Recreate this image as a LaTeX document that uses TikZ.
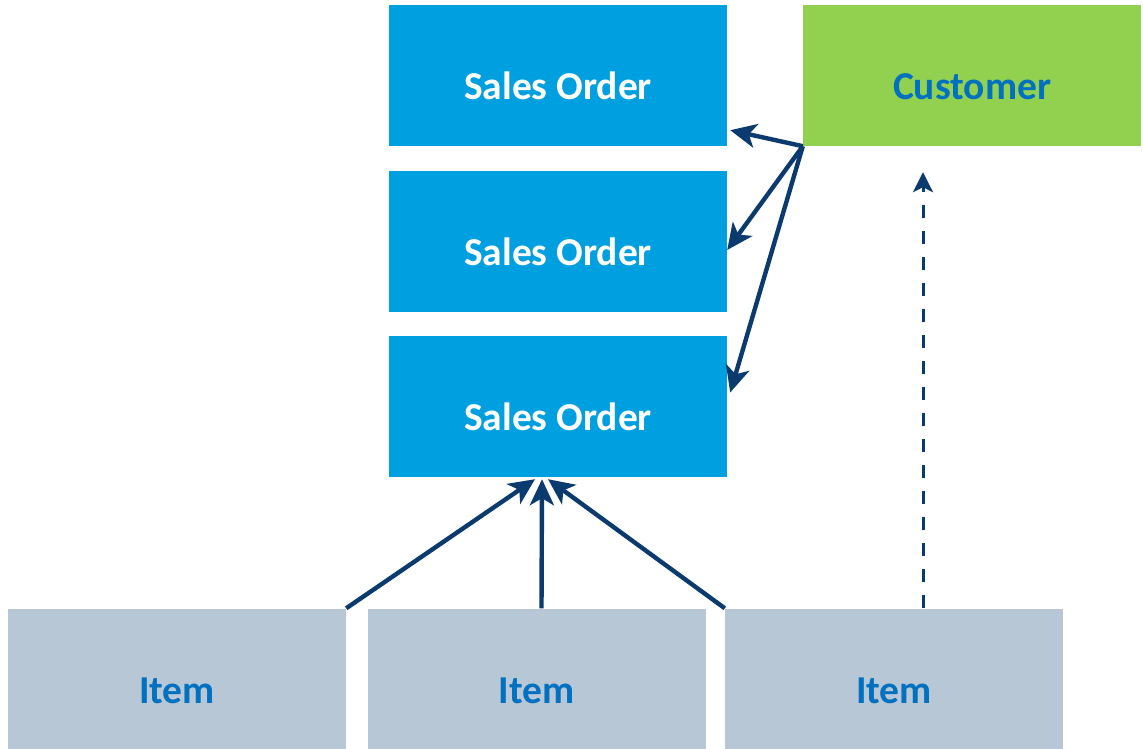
\documentclass[tikz,border=0pt]{standalone}
\usepackage{fontspec}
\setmainfont{Carlito}
\usetikzlibrary{arrows.meta}

\definecolor{orderblue}{HTML}{009FDF}
\definecolor{custgreen}{HTML}{92D050}
\definecolor{itemgray}{HTML}{B8C7D5}
\definecolor{labelblue}{HTML}{0070C0}
\definecolor{linknavy}{HTML}{0B3A6E}

\begin{document}
\begin{tikzpicture}[x=1pt, y=-1pt, >={Stealth[length=26pt,width=24pt,inset=7pt]}]

% --- 全局样式 ---
\tikzset{
  box/.style={minimum width=338pt, minimum height=141pt, inner sep=0pt,
              text height=48pt, text depth=0pt,
              font=\fontsize{39.5}{42}\selectfont\bfseries},
  orderbox/.style={box, fill=orderblue, text=white},
  custbox/.style={box, fill=custgreen, text=labelblue},
  itembox/.style={box, fill=itemgray, text=labelblue},
  link/.style={->, draw=linknavy, line width=4.4pt},
  weaklink/.style={draw=linknavy, line width=3pt, dash pattern=on 13pt off 13pt,
                   -{Stealth[length=20pt,width=20pt,inset=5pt]}}
}

% --- 画布范围 ---
\useasboundingbox (0,0) rectangle (1143,749);

% --- 方框 ---
\node[orderbox] (so1) at (558,75.5) {Sales Order};
\node[orderbox] (so2) at (558,241) {Sales Order};
\node[orderbox] (so3) at (558,406.5) {Sales Order};
\node[custbox] (cust) at (972,75.5) {Customer};
\node[itembox] (item1) at (177,679) {Item};
\node[itembox] (item2) at (536.5,679) {Item};
\node[itembox] (item3) at (894,679) {Item};

% --- Customer 到各 Sales Order ---
\draw[link] (cust.south west) -- ([xshift=3pt,yshift=16pt]so1.south east);
\draw[link] (cust.south west) -- ([yshift=-9pt]so2.east);
\draw[link] (cust.south west) -- ([xshift=3pt,yshift=14pt]so3.east);

% --- Item 到 Sales Order ---
\draw[link] (item1.north east) -- ([xshift=-23pt,yshift=-2pt]so3.south);
\draw[link] ([xshift=5pt]item2.north) -- ([xshift=-16pt,yshift=-2pt]so3.south);
\draw[link] (item3.north west) -- ([xshift=-10pt,yshift=-2pt]so3.south);

% --- 虚线 ---
\draw[weaklink] ([xshift=29pt]item3.north) -- ([xshift=-49pt,yshift=-26pt]cust.south);

\end{tikzpicture}
\end{document}
